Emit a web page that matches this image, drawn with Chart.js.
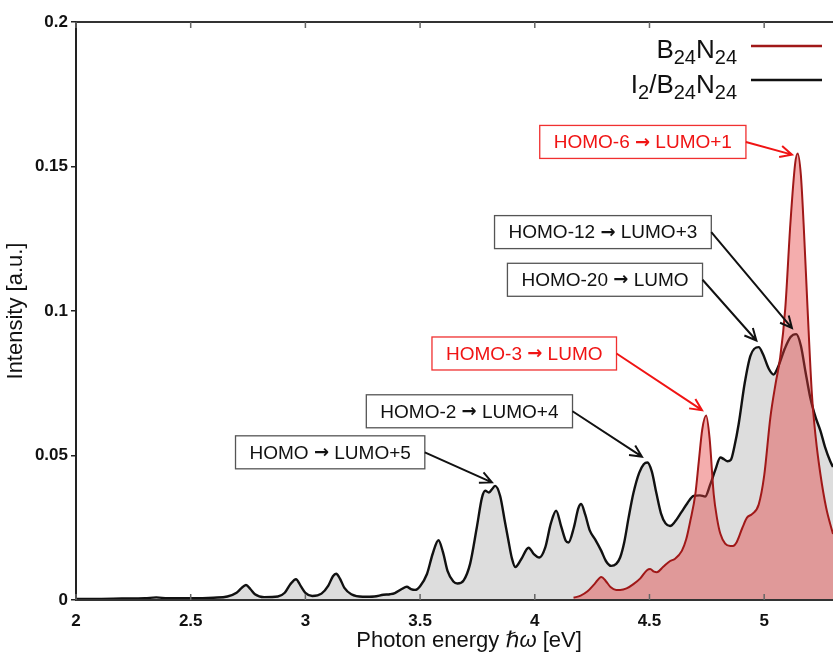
<!DOCTYPE html>
<html>
<head>
<meta charset="utf-8">
<script src="https://cdn.jsdelivr.net/npm/chart.js@4.4.1/dist/chart.umd.min.js"></script>
<style>
  html, body { margin: 0; padding: 0; background: #fff; }
  #wrap { width: 833px; height: 655px; }
</style>
</head>
<body>
<div id="wrap"><canvas id="spectrum"></canvas></div>
<script>
// B24N24 absorption spectrum (photon energy in eV, intensity in a.u.)
const bnEnergy = [4.169, 4.20, 4.23, 4.26, 4.29, 4.31, 4.33, 4.355, 4.372, 4.40, 4.43, 4.46, 4.489, 4.503,
  4.52, 4.532, 4.56, 4.59, 4.61, 4.641, 4.66, 4.678, 4.70, 4.715, 4.73, 4.747, 4.762, 4.78, 4.795, 4.809,
  4.83, 4.852, 4.864, 4.88, 4.905, 4.925, 4.947, 4.976, 5.00, 5.027, 5.05, 5.07, 5.092, 5.114, 5.135,
  5.146, 5.16, 5.172, 5.189, 5.208, 5.225, 5.245, 5.27, 5.30];
const bnIntensity = [0.0008, 0.0015, 0.0030, 0.0055, 0.0080, 0.0065, 0.0045, 0.0035, 0.0035, 0.0040, 0.0055,
  0.0075, 0.0103, 0.0107, 0.0098, 0.0096, 0.0115, 0.0135, 0.0142, 0.0170, 0.0210, 0.0274, 0.0367, 0.0480,
  0.0590, 0.0638, 0.0560, 0.0366, 0.0280, 0.0229, 0.0195, 0.0187, 0.0187, 0.0200, 0.0250, 0.0285, 0.0297,
  0.0330, 0.0430, 0.0632, 0.0750, 0.0840, 0.1010, 0.1300, 0.1510, 0.1545, 0.1470, 0.1300, 0.1010, 0.0713,
  0.0560, 0.0436, 0.0320, 0.0228];

// I2/B24N24 absorption spectrum
const ibnEnergy = [2.00, 2.10, 2.20, 2.30, 2.35, 2.40, 2.50, 2.60, 2.66, 2.70, 2.72, 2.741, 2.76, 2.78, 2.82,
  2.88, 2.91, 2.935, 2.959, 2.98, 3.00, 3.03, 3.07, 3.10, 3.12, 3.134, 3.15, 3.17, 3.20, 3.25, 3.30, 3.34,
  3.369, 3.39, 3.42, 3.442, 3.46, 3.478, 3.50, 3.53, 3.555, 3.58, 3.60, 3.62, 3.645, 3.663, 3.69, 3.718,
  3.747, 3.77, 3.784, 3.80, 3.815, 3.827, 3.849, 3.87, 3.884, 3.90, 3.915, 3.94, 3.973, 3.995, 4.02, 4.045,
  4.07, 4.093, 4.115, 4.135, 4.147, 4.17, 4.19, 4.202, 4.22, 4.24, 4.263, 4.29, 4.31, 4.333, 4.355, 4.372,
  4.39, 4.409, 4.43, 4.455, 4.475, 4.491, 4.51, 4.53, 4.55, 4.57, 4.59, 4.61, 4.64, 4.665, 4.692, 4.72,
  4.743, 4.765, 4.787, 4.809, 4.825, 4.84, 4.855, 4.87, 4.889, 4.915, 4.94, 4.976, 4.995, 5.02, 5.041,
  5.06, 5.09, 5.115, 5.14, 5.16, 5.18, 5.201, 5.225, 5.245, 5.265, 5.288, 5.30];
const ibnIntensity = [0.0004, 0.0004, 0.0005, 0.0006, 0.0009, 0.0006, 0.0006, 0.0008, 0.0012, 0.0025, 0.0040,
  0.0052, 0.0038, 0.0020, 0.0010, 0.0012, 0.0025, 0.0055, 0.0072, 0.0048, 0.0025, 0.0014, 0.0022, 0.0050,
  0.0082, 0.0091, 0.0075, 0.0042, 0.0020, 0.0011, 0.0012, 0.0018, 0.0020, 0.0024, 0.0038, 0.0046, 0.0038,
  0.0035, 0.0048, 0.0090, 0.0160, 0.0207, 0.0165, 0.0100, 0.0064, 0.0057, 0.0068, 0.0125, 0.0250, 0.0355,
  0.0378, 0.0372, 0.0385, 0.0395, 0.0360, 0.0270, 0.0210, 0.0145, 0.0114, 0.0140, 0.0181, 0.0160, 0.0147,
  0.0180, 0.0265, 0.0309, 0.0255, 0.0205, 0.0199, 0.0250, 0.0318, 0.0332, 0.0295, 0.0240, 0.0210, 0.0170,
  0.0135, 0.0118, 0.0125, 0.0147, 0.0200, 0.0285, 0.0370, 0.0440, 0.0470, 0.0476, 0.0445, 0.0370, 0.0300,
  0.0265, 0.0256, 0.0270, 0.0305, 0.0335, 0.0360, 0.0362, 0.0358, 0.0400, 0.0450, 0.0493, 0.0487, 0.0480,
  0.0485, 0.0530, 0.0610, 0.0750, 0.0845, 0.0875, 0.0850, 0.0800, 0.0780, 0.0805, 0.0870, 0.0910, 0.0920,
  0.0880, 0.0790, 0.0700, 0.0630, 0.0586, 0.0530, 0.0480, 0.0460];

const xTicks = [2, 2.5, 3, 3.5, 4, 4.5, 5];
const xTickLabels = ['2', '2.5', '3', '3.5', '4', '4.5', '5'];
const yTicks = [0, 0.05, 0.1, 0.15, 0.2];
const yTickLabels = ['0', '0.05', '0.1', '0.15', '0.2'];

// transition labels: box centre and arrow tip in data units (eV, a.u.)
const transitions = [
  { text: 'HOMO-6 \u2192 LUMO+1',  box: [4.471, 0.1585], tip: [5.121, 0.1541], red: true },
  { text: 'HOMO-12 \u2192 LUMO+3', box: [4.297, 0.1273], tip: [5.121, 0.0941], red: false },
  { text: 'HOMO-20 \u2192 LUMO',   box: [4.306, 0.1108], tip: [4.966, 0.0898], red: false },
  { text: 'HOMO-3 \u2192 LUMO',    box: [3.954, 0.0853], tip: [4.729, 0.0657], red: true },
  { text: 'HOMO-2 \u2192 LUMO+4',  box: [3.715, 0.0653], tip: [4.467, 0.0496], red: false },
  { text: 'HOMO \u2192 LUMO+5',    box: [3.108, 0.0511], tip: [3.813, 0.0407], red: false }
];

const FONT = '"Liberation Sans", Arial, "DejaVu Sans", sans-serif';
const ARROW_FONT = 'bold 18px "DejaVu Sans", sans-serif';
const toXY = (xs, ys) => xs.map((x, i) => ({ x: x, y: ys[i] }));

// top frame line, inward ticks, x-axis title
const framePlugin = {
  id: 'frame',
  afterDatasetsDraw(chart) {
    const { ctx, chartArea: ca, scales: { x } } = chart;
    ctx.save();
    ctx.strokeStyle = '#333';
    ctx.lineWidth = 2;
    ctx.beginPath();
    ctx.moveTo(ca.left, ca.top); ctx.lineTo(ca.right, ca.top);
    ctx.moveTo(ca.left, ca.bottom); ctx.lineTo(ca.right, ca.bottom);
    ctx.stroke();
    ctx.strokeStyle = '#666';
    ctx.lineWidth = 1.5;
    ctx.beginPath();
    xTicks.forEach(v => {
      const px = x.getPixelForValue(v);
      ctx.moveTo(px, ca.bottom); ctx.lineTo(px, ca.bottom - 6);
      ctx.moveTo(px, ca.top); ctx.lineTo(px, ca.top + 6);
    });
    ctx.stroke();

    // x title with italic hbar-omega
    const parts = [['Photon energy ', 'normal'], ['\u210F\u03C9', 'italic'], [' [eV]', 'normal']];
    let total = 0;
    parts.forEach(p => { ctx.font = p[1] + ' 22px ' + FONT; total += ctx.measureText(p[0]).width; });
    let cx = 469 - total / 2;
    ctx.fillStyle = '#111';
    ctx.textBaseline = 'middle';
    ctx.textAlign = 'left';
    parts.forEach(p => {
      ctx.font = p[1] + ' 22px ' + FONT;
      ctx.fillText(p[0], cx, 641);
      cx += ctx.measureText(p[0]).width;
    });
    ctx.restore();
  }
};

function drawArrow(ctx, x0, y0, x1, y1) {
  const a = Math.atan2(y1 - y0, x1 - x0);
  const len = 13, spread = 0.45;
  ctx.beginPath();
  ctx.moveTo(x0, y0); ctx.lineTo(x1, y1);
  ctx.moveTo(x1 - len * Math.cos(a - spread), y1 - len * Math.sin(a - spread));
  ctx.lineTo(x1, y1);
  ctx.lineTo(x1 - len * Math.cos(a + spread), y1 - len * Math.sin(a + spread));
  ctx.stroke();
}

// label text with the arrow glyph set in a font that has a full-size arrow
function labelRuns(ctx, text) {
  const [a, b] = text.split('\u2192');
  const runs = [[a, '19px ' + FONT], ['\u2192', ARROW_FONT], [b, '19px ' + FONT]];
  let w = 0;
  runs.forEach(r => { ctx.font = r[1]; r.push(ctx.measureText(r[0]).width); w += r[2]; });
  return { runs, w };
}

const annotationPlugin = {
  id: 'transitions',
  afterDatasetsDraw(chart) {
    const { ctx, scales: { x, y } } = chart;
    ctx.save();
    ctx.textAlign = 'left';
    ctx.textBaseline = 'middle';
    transitions.forEach(t => {
      const col = t.red ? '#f01414' : '#111';
      const lab = labelRuns(ctx, t.text);
      const w = lab.w + 28, h = 33;
      const cx = x.getPixelForValue(t.box[0]), cy = y.getPixelForValue(t.box[1]);
      ctx.fillStyle = '#fff';
      ctx.fillRect(cx - w / 2, cy - h / 2, w, h);
      ctx.strokeStyle = t.red ? '#f03030' : '#555';
      ctx.lineWidth = 1.3;
      ctx.strokeRect(cx - w / 2, cy - h / 2, w, h);
      ctx.fillStyle = col;
      let tx = cx - lab.w / 2;
      lab.runs.forEach(r => {
        ctx.font = r[1];
        ctx.fillText(r[0], tx, cy + 1);
        tx += r[2];
      });
      ctx.strokeStyle = col;
      ctx.lineWidth = 2;
      drawArrow(ctx, cx + w / 2, cy, x.getPixelForValue(t.tip[0]), y.getPixelForValue(t.tip[1]));
    });
    ctx.restore();
  }
};

// legend with subscripts
const legendRows = [
  { parts: [['B', 0], ['24', 1], ['N', 0], ['24', 1]], color: '#a01818' },
  { parts: [['I', 0], ['2', 1], ['/B', 0], ['24', 1], ['N', 0], ['24', 1]], color: '#111' }
];
const legendPlugin = {
  id: 'subLegend',
  afterDraw(chart) {
    const { ctx, chartArea: ca } = chart;
    ctx.save();
    ctx.textBaseline = 'alphabetic';
    ctx.textAlign = 'left';
    ctx.fillStyle = '#111';
    legendRows.forEach((row, i) => {
      const base = ca.top + 36 + i * 35;
      const fontOf = s => (s ? '20px ' : '26px ') + FONT;
      let w = 0;
      row.parts.forEach(p => { ctx.font = fontOf(p[1]); w += ctx.measureText(p[0]).width; });
      let px = ca.right - 96 - w;
      row.parts.forEach(p => {
        ctx.font = fontOf(p[1]);
        ctx.fillText(p[0], px, base + (p[1] ? 6 : 0));
        px += ctx.measureText(p[0]).width;
      });
      ctx.strokeStyle = row.color;
      ctx.lineWidth = 2.5;
      ctx.beginPath();
      ctx.moveTo(ca.right - 82, base - 12 - i);
      ctx.lineTo(ca.right - 11, base - 12 - i);
      ctx.stroke();
    });
    ctx.restore();
  }
};

new Chart(document.getElementById('spectrum'), {
  type: 'line',
  data: {
    datasets: [
      {
        label: 'B24N24',
        data: toXY(bnEnergy, bnIntensity),
        borderColor: '#a01818',
        borderWidth: 2,
        backgroundColor: 'rgba(228,60,60,0.42)',
        fill: 'origin',
        pointRadius: 0,
        cubicInterpolationMode: 'monotone'
      },
      {
        label: 'I2/B24N24',
        data: toXY(ibnEnergy, ibnIntensity),
        borderColor: '#111',
        borderWidth: 2.4,
        backgroundColor: '#dddddd',
        fill: 'origin',
        pointRadius: 0,
        cubicInterpolationMode: 'monotone'
      }
    ]
  },
  options: {
    responsive: true,
    maintainAspectRatio: false,
    animation: false,
    layout: { padding: { top: 22, right: 0, left: 0, bottom: 0 } },
    plugins: {
      legend: { display: false },
      tooltip: { enabled: false }
    },
    scales: {
      x: {
        type: 'linear',
        min: 2,
        max: 5.3,
        afterFit: s => { s.height = 55; },
        afterBuildTicks: s => { s.ticks = xTicks.map(v => ({ value: v })); },
        ticks: {
          callback: v => xTickLabels[xTicks.indexOf(v)],
          font: { family: FONT, size: 17, weight: 'bold' },
          color: '#111',
          padding: 11,
          maxRotation: 0
        },
        grid: { display: true, drawOnChartArea: false, drawTicks: false },
        border: { display: true, color: '#333', width: 2 }
      },
      y: {
        min: 0,
        max: 0.2,
        afterFit: s => { s.width = 76; },
        afterBuildTicks: s => { s.ticks = yTicks.map(v => ({ value: v })); },
        ticks: {
          callback: v => yTickLabels[yTicks.indexOf(v)],
          font: { family: FONT, size: 17, weight: 'bold' },
          color: '#111',
          padding: 3
        },
        grid: { display: true, drawOnChartArea: false, drawTicks: true, tickLength: 5, color: '#222', lineWidth: 1.5 },
        border: { display: true, color: '#222', width: 2 },
        title: {
          display: true,
          text: 'Intensity [a.u.]',
          font: { family: FONT, size: 22 },
          color: '#111',
          padding: { top: 3, bottom: 0 }
        }
      }
    }
  },
  plugins: [framePlugin, annotationPlugin, legendPlugin]
});
</script>
</body>
</html>
